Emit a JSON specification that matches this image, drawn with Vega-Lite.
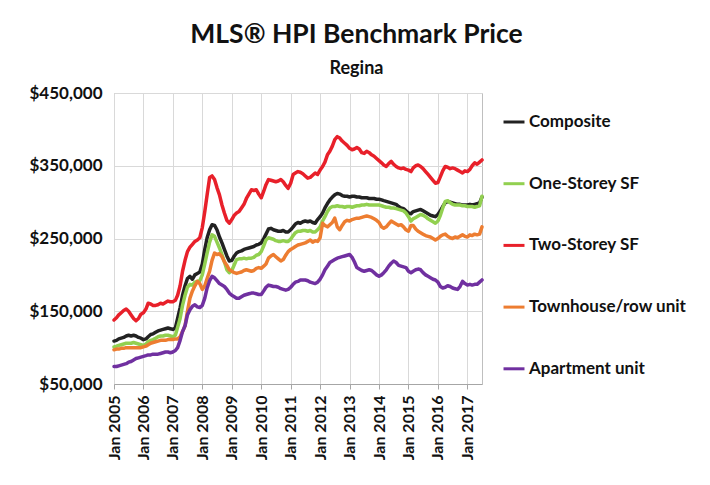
{
  "$schema": "https://vega.github.io/schema/vega-lite/v6.json",
  "width": 368,
  "height": 291,
  "padding": {"left": 29, "top": 21, "right": 5, "bottom": 5},
  "background": "white",
  "title": {
    "text": "MLS® HPI Benchmark Price",
    "subtitle": "Regina",
    "anchor": "middle",
    "frame": "bounds",
    "dx": -10,
    "font": "Lato",
    "fontSize": 26.5,
    "fontWeight": "bold",
    "color": "#111111",
    "subtitleFont": "Lato",
    "subtitleFontSize": 18,
    "subtitleFontWeight": "bold",
    "subtitleColor": "#111111",
    "subtitlePadding": 12,
    "offset": 6
  },
  "data": {
    "values": [
      {"d":"2005-01","Composite":109000,"One-Storey SF":101000,"Two-Storey SF":138000,"Townhouse/row unit":97000,"Apartment unit":74000},
      {"d":"2005-02","Composite":110000,"One-Storey SF":102000,"Two-Storey SF":141000,"Townhouse/row unit":98000,"Apartment unit":74000},
      {"d":"2005-03","Composite":112000,"One-Storey SF":103000,"Two-Storey SF":145000,"Townhouse/row unit":98000,"Apartment unit":75000},
      {"d":"2005-04","Composite":113000,"One-Storey SF":104000,"Two-Storey SF":148000,"Townhouse/row unit":99000,"Apartment unit":76000},
      {"d":"2005-05","Composite":114000,"One-Storey SF":105000,"Two-Storey SF":151000,"Townhouse/row unit":99000,"Apartment unit":77000},
      {"d":"2005-06","Composite":116000,"One-Storey SF":106000,"Two-Storey SF":153000,"Townhouse/row unit":100000,"Apartment unit":78000},
      {"d":"2005-07","Composite":117000,"One-Storey SF":106000,"Two-Storey SF":150000,"Townhouse/row unit":100000,"Apartment unit":80000},
      {"d":"2005-08","Composite":116000,"One-Storey SF":106000,"Two-Storey SF":145000,"Townhouse/row unit":100000,"Apartment unit":81000},
      {"d":"2005-09","Composite":117000,"One-Storey SF":107000,"Two-Storey SF":140000,"Townhouse/row unit":100000,"Apartment unit":83000},
      {"d":"2005-10","Composite":116000,"One-Storey SF":106000,"Two-Storey SF":137000,"Townhouse/row unit":100000,"Apartment unit":85000},
      {"d":"2005-11","Composite":114000,"One-Storey SF":105000,"Two-Storey SF":140000,"Townhouse/row unit":100000,"Apartment unit":86000},
      {"d":"2005-12","Composite":113000,"One-Storey SF":104000,"Two-Storey SF":146000,"Townhouse/row unit":100000,"Apartment unit":87000},
      {"d":"2006-01","Composite":111000,"One-Storey SF":103000,"Two-Storey SF":148000,"Townhouse/row unit":101000,"Apartment unit":88000},
      {"d":"2006-02","Composite":112000,"One-Storey SF":105000,"Two-Storey SF":153000,"Townhouse/row unit":102000,"Apartment unit":89000},
      {"d":"2006-03","Composite":115000,"One-Storey SF":108000,"Two-Storey SF":161000,"Townhouse/row unit":104000,"Apartment unit":90000},
      {"d":"2006-04","Composite":118000,"One-Storey SF":110000,"Two-Storey SF":160000,"Townhouse/row unit":106000,"Apartment unit":90000},
      {"d":"2006-05","Composite":119000,"One-Storey SF":111000,"Two-Storey SF":158000,"Townhouse/row unit":107000,"Apartment unit":91000},
      {"d":"2006-06","Composite":121000,"One-Storey SF":113000,"Two-Storey SF":158000,"Townhouse/row unit":108000,"Apartment unit":91000},
      {"d":"2006-07","Composite":123000,"One-Storey SF":115000,"Two-Storey SF":159000,"Townhouse/row unit":109000,"Apartment unit":91000},
      {"d":"2006-08","Composite":124000,"One-Storey SF":116000,"Two-Storey SF":161000,"Townhouse/row unit":110000,"Apartment unit":92000},
      {"d":"2006-09","Composite":125000,"One-Storey SF":116000,"Two-Storey SF":160000,"Townhouse/row unit":110000,"Apartment unit":93000},
      {"d":"2006-10","Composite":126000,"One-Storey SF":117000,"Two-Storey SF":162000,"Townhouse/row unit":110000,"Apartment unit":94000},
      {"d":"2006-11","Composite":127000,"One-Storey SF":117000,"Two-Storey SF":164000,"Townhouse/row unit":111000,"Apartment unit":94000},
      {"d":"2006-12","Composite":126000,"One-Storey SF":116000,"Two-Storey SF":163000,"Townhouse/row unit":111000,"Apartment unit":93000},
      {"d":"2007-01","Composite":125000,"One-Storey SF":115000,"Two-Storey SF":163000,"Townhouse/row unit":111000,"Apartment unit":94000},
      {"d":"2007-02","Composite":127000,"One-Storey SF":117000,"Two-Storey SF":165000,"Townhouse/row unit":112000,"Apartment unit":96000},
      {"d":"2007-03","Composite":140000,"One-Storey SF":128000,"Two-Storey SF":172000,"Townhouse/row unit":112000,"Apartment unit":100000},
      {"d":"2007-04","Composite":155000,"One-Storey SF":140000,"Two-Storey SF":185000,"Townhouse/row unit":115000,"Apartment unit":110000},
      {"d":"2007-05","Composite":172000,"One-Storey SF":158000,"Two-Storey SF":205000,"Townhouse/row unit":122000,"Apartment unit":122000},
      {"d":"2007-06","Composite":185000,"One-Storey SF":172000,"Two-Storey SF":220000,"Townhouse/row unit":130000,"Apartment unit":130000},
      {"d":"2007-07","Composite":195000,"One-Storey SF":183000,"Two-Storey SF":232000,"Townhouse/row unit":150000,"Apartment unit":145000},
      {"d":"2007-08","Composite":198000,"One-Storey SF":187000,"Two-Storey SF":238000,"Townhouse/row unit":168000,"Apartment unit":152000},
      {"d":"2007-09","Composite":194000,"One-Storey SF":186000,"Two-Storey SF":242000,"Townhouse/row unit":178000,"Apartment unit":157000},
      {"d":"2007-10","Composite":200000,"One-Storey SF":190000,"Two-Storey SF":246000,"Townhouse/row unit":185000,"Apartment unit":159000},
      {"d":"2007-11","Composite":202000,"One-Storey SF":191000,"Two-Storey SF":248000,"Townhouse/row unit":191000,"Apartment unit":156000},
      {"d":"2007-12","Composite":204000,"One-Storey SF":192000,"Two-Storey SF":251000,"Townhouse/row unit":188000,"Apartment unit":155000},
      {"d":"2008-01","Composite":215000,"One-Storey SF":200000,"Two-Storey SF":265000,"Townhouse/row unit":180000,"Apartment unit":158000},
      {"d":"2008-02","Composite":235000,"One-Storey SF":215000,"Two-Storey SF":287000,"Townhouse/row unit":185000,"Apartment unit":168000},
      {"d":"2008-03","Composite":251000,"One-Storey SF":230000,"Two-Storey SF":310000,"Townhouse/row unit":195000,"Apartment unit":182000},
      {"d":"2008-04","Composite":262000,"One-Storey SF":245000,"Two-Storey SF":334000,"Townhouse/row unit":205000,"Apartment unit":192000},
      {"d":"2008-05","Composite":269000,"One-Storey SF":255000,"Two-Storey SF":336000,"Townhouse/row unit":220000,"Apartment unit":198000},
      {"d":"2008-06","Composite":268000,"One-Storey SF":253000,"Two-Storey SF":331000,"Townhouse/row unit":230000,"Apartment unit":196000},
      {"d":"2008-07","Composite":262000,"One-Storey SF":245000,"Two-Storey SF":320000,"Townhouse/row unit":228000,"Apartment unit":192000},
      {"d":"2008-08","Composite":252000,"One-Storey SF":237000,"Two-Storey SF":310000,"Townhouse/row unit":229000,"Apartment unit":188000},
      {"d":"2008-09","Composite":244000,"One-Storey SF":228000,"Two-Storey SF":296000,"Townhouse/row unit":225000,"Apartment unit":186000},
      {"d":"2008-10","Composite":235000,"One-Storey SF":218000,"Two-Storey SF":285000,"Townhouse/row unit":218000,"Apartment unit":184000},
      {"d":"2008-11","Composite":226000,"One-Storey SF":207000,"Two-Storey SF":275000,"Townhouse/row unit":213000,"Apartment unit":180000},
      {"d":"2008-12","Composite":219000,"One-Storey SF":203000,"Two-Storey SF":271000,"Townhouse/row unit":207000,"Apartment unit":175000},
      {"d":"2009-01","Composite":220000,"One-Storey SF":206000,"Two-Storey SF":276000,"Townhouse/row unit":205000,"Apartment unit":172000},
      {"d":"2009-02","Composite":226000,"One-Storey SF":214000,"Two-Storey SF":282000,"Townhouse/row unit":203000,"Apartment unit":170000},
      {"d":"2009-03","Composite":230000,"One-Storey SF":221000,"Two-Storey SF":285000,"Townhouse/row unit":202000,"Apartment unit":168000},
      {"d":"2009-04","Composite":232000,"One-Storey SF":222000,"Two-Storey SF":287000,"Townhouse/row unit":203000,"Apartment unit":168000},
      {"d":"2009-05","Composite":233000,"One-Storey SF":222000,"Two-Storey SF":292000,"Townhouse/row unit":204000,"Apartment unit":170000},
      {"d":"2009-06","Composite":235000,"One-Storey SF":223000,"Two-Storey SF":297000,"Townhouse/row unit":206000,"Apartment unit":172000},
      {"d":"2009-07","Composite":236000,"One-Storey SF":222000,"Two-Storey SF":305000,"Townhouse/row unit":207000,"Apartment unit":173000},
      {"d":"2009-08","Composite":237000,"One-Storey SF":223000,"Two-Storey SF":311000,"Townhouse/row unit":206000,"Apartment unit":174000},
      {"d":"2009-09","Composite":238000,"One-Storey SF":223000,"Two-Storey SF":317000,"Townhouse/row unit":205000,"Apartment unit":175000},
      {"d":"2009-10","Composite":239000,"One-Storey SF":224000,"Two-Storey SF":316000,"Townhouse/row unit":206000,"Apartment unit":175000},
      {"d":"2009-11","Composite":241000,"One-Storey SF":227000,"Two-Storey SF":317000,"Townhouse/row unit":209000,"Apartment unit":174000},
      {"d":"2009-12","Composite":242000,"One-Storey SF":228000,"Two-Storey SF":311000,"Townhouse/row unit":210000,"Apartment unit":173000},
      {"d":"2010-01","Composite":244000,"One-Storey SF":232000,"Two-Storey SF":306000,"Townhouse/row unit":209000,"Apartment unit":173000},
      {"d":"2010-02","Composite":250000,"One-Storey SF":240000,"Two-Storey SF":315000,"Townhouse/row unit":212000,"Apartment unit":178000},
      {"d":"2010-03","Composite":256000,"One-Storey SF":248000,"Two-Storey SF":324000,"Townhouse/row unit":215000,"Apartment unit":183000},
      {"d":"2010-04","Composite":263000,"One-Storey SF":251000,"Two-Storey SF":331000,"Townhouse/row unit":223000,"Apartment unit":186000},
      {"d":"2010-05","Composite":264000,"One-Storey SF":250000,"Two-Storey SF":330000,"Townhouse/row unit":226000,"Apartment unit":185000},
      {"d":"2010-06","Composite":262000,"One-Storey SF":249000,"Two-Storey SF":329000,"Townhouse/row unit":228000,"Apartment unit":184000},
      {"d":"2010-07","Composite":261000,"One-Storey SF":247000,"Two-Storey SF":328000,"Townhouse/row unit":225000,"Apartment unit":184000},
      {"d":"2010-08","Composite":260000,"One-Storey SF":246000,"Two-Storey SF":329000,"Townhouse/row unit":222000,"Apartment unit":183000},
      {"d":"2010-09","Composite":260000,"One-Storey SF":246000,"Two-Storey SF":331000,"Townhouse/row unit":219000,"Apartment unit":181000},
      {"d":"2010-10","Composite":261000,"One-Storey SF":247000,"Two-Storey SF":328000,"Townhouse/row unit":221000,"Apartment unit":180000},
      {"d":"2010-11","Composite":259000,"One-Storey SF":246000,"Two-Storey SF":323000,"Townhouse/row unit":227000,"Apartment unit":179000},
      {"d":"2010-12","Composite":259000,"One-Storey SF":246000,"Two-Storey SF":319000,"Townhouse/row unit":232000,"Apartment unit":180000},
      {"d":"2011-01","Composite":262000,"One-Storey SF":249000,"Two-Storey SF":326000,"Townhouse/row unit":235000,"Apartment unit":183000},
      {"d":"2011-02","Composite":266000,"One-Storey SF":254000,"Two-Storey SF":338000,"Townhouse/row unit":237000,"Apartment unit":187000},
      {"d":"2011-03","Composite":270000,"One-Storey SF":258000,"Two-Storey SF":340000,"Townhouse/row unit":239000,"Apartment unit":190000},
      {"d":"2011-04","Composite":272000,"One-Storey SF":260000,"Two-Storey SF":342000,"Townhouse/row unit":241000,"Apartment unit":191000},
      {"d":"2011-05","Composite":271000,"One-Storey SF":260000,"Two-Storey SF":341000,"Townhouse/row unit":242000,"Apartment unit":193000},
      {"d":"2011-06","Composite":273000,"One-Storey SF":261000,"Two-Storey SF":339000,"Townhouse/row unit":243000,"Apartment unit":193000},
      {"d":"2011-07","Composite":274000,"One-Storey SF":261000,"Two-Storey SF":336000,"Townhouse/row unit":244000,"Apartment unit":193000},
      {"d":"2011-08","Composite":273000,"One-Storey SF":260000,"Two-Storey SF":333000,"Townhouse/row unit":246000,"Apartment unit":192000},
      {"d":"2011-09","Composite":274000,"One-Storey SF":261000,"Two-Storey SF":334000,"Townhouse/row unit":248000,"Apartment unit":190000},
      {"d":"2011-10","Composite":272000,"One-Storey SF":259000,"Two-Storey SF":337000,"Townhouse/row unit":245000,"Apartment unit":189000},
      {"d":"2011-11","Composite":271000,"One-Storey SF":259000,"Two-Storey SF":340000,"Townhouse/row unit":247000,"Apartment unit":188000},
      {"d":"2011-12","Composite":276000,"One-Storey SF":262000,"Two-Storey SF":338000,"Townhouse/row unit":246000,"Apartment unit":190000},
      {"d":"2012-01","Composite":280000,"One-Storey SF":266000,"Two-Storey SF":344000,"Townhouse/row unit":251000,"Apartment unit":194000},
      {"d":"2012-02","Composite":285000,"One-Storey SF":274000,"Two-Storey SF":349000,"Townhouse/row unit":271000,"Apartment unit":200000},
      {"d":"2012-03","Composite":292000,"One-Storey SF":280000,"Two-Storey SF":355000,"Townhouse/row unit":268000,"Apartment unit":207000},
      {"d":"2012-04","Composite":298000,"One-Storey SF":287000,"Two-Storey SF":365000,"Townhouse/row unit":266000,"Apartment unit":212000},
      {"d":"2012-05","Composite":303000,"One-Storey SF":292000,"Two-Storey SF":370000,"Townhouse/row unit":269000,"Apartment unit":217000},
      {"d":"2012-06","Composite":307000,"One-Storey SF":294000,"Two-Storey SF":377000,"Townhouse/row unit":272000,"Apartment unit":219000},
      {"d":"2012-07","Composite":310000,"One-Storey SF":294000,"Two-Storey SF":386000,"Townhouse/row unit":278000,"Apartment unit":221000},
      {"d":"2012-08","Composite":312000,"One-Storey SF":295000,"Two-Storey SF":390000,"Townhouse/row unit":266000,"Apartment unit":223000},
      {"d":"2012-09","Composite":311000,"One-Storey SF":294000,"Two-Storey SF":388000,"Townhouse/row unit":262000,"Apartment unit":224000},
      {"d":"2012-10","Composite":309000,"One-Storey SF":294000,"Two-Storey SF":384000,"Townhouse/row unit":268000,"Apartment unit":225000},
      {"d":"2012-11","Composite":308000,"One-Storey SF":293000,"Two-Storey SF":381000,"Townhouse/row unit":273000,"Apartment unit":226000},
      {"d":"2012-12","Composite":308000,"One-Storey SF":294000,"Two-Storey SF":378000,"Townhouse/row unit":275000,"Apartment unit":227000},
      {"d":"2013-01","Composite":307000,"One-Storey SF":294000,"Two-Storey SF":374000,"Townhouse/row unit":274000,"Apartment unit":228000},
      {"d":"2013-02","Composite":308000,"One-Storey SF":293000,"Two-Storey SF":372000,"Townhouse/row unit":276000,"Apartment unit":224000},
      {"d":"2013-03","Composite":308000,"One-Storey SF":294000,"Two-Storey SF":373000,"Townhouse/row unit":277000,"Apartment unit":218000},
      {"d":"2013-04","Composite":307000,"One-Storey SF":295000,"Two-Storey SF":375000,"Townhouse/row unit":278000,"Apartment unit":210000},
      {"d":"2013-05","Composite":307000,"One-Storey SF":295000,"Two-Storey SF":373000,"Townhouse/row unit":278000,"Apartment unit":208000},
      {"d":"2013-06","Composite":306000,"One-Storey SF":296000,"Two-Storey SF":368000,"Townhouse/row unit":279000,"Apartment unit":206000},
      {"d":"2013-07","Composite":306000,"One-Storey SF":296000,"Two-Storey SF":367000,"Townhouse/row unit":280000,"Apartment unit":205000},
      {"d":"2013-08","Composite":306000,"One-Storey SF":297000,"Two-Storey SF":370000,"Townhouse/row unit":281000,"Apartment unit":206000},
      {"d":"2013-09","Composite":305000,"One-Storey SF":296000,"Two-Storey SF":368000,"Townhouse/row unit":280000,"Apartment unit":207000},
      {"d":"2013-10","Composite":305000,"One-Storey SF":296000,"Two-Storey SF":365000,"Townhouse/row unit":279000,"Apartment unit":206000},
      {"d":"2013-11","Composite":305000,"One-Storey SF":296000,"Two-Storey SF":363000,"Townhouse/row unit":277000,"Apartment unit":203000},
      {"d":"2013-12","Composite":304000,"One-Storey SF":296000,"Two-Storey SF":360000,"Townhouse/row unit":275000,"Apartment unit":200000},
      {"d":"2014-01","Composite":304000,"One-Storey SF":296000,"Two-Storey SF":357000,"Townhouse/row unit":272000,"Apartment unit":198000},
      {"d":"2014-02","Composite":303000,"One-Storey SF":295000,"Two-Storey SF":354000,"Townhouse/row unit":266000,"Apartment unit":200000},
      {"d":"2014-03","Composite":302000,"One-Storey SF":294000,"Two-Storey SF":351000,"Townhouse/row unit":264000,"Apartment unit":203000},
      {"d":"2014-04","Composite":301000,"One-Storey SF":293000,"Two-Storey SF":349000,"Townhouse/row unit":266000,"Apartment unit":207000},
      {"d":"2014-05","Composite":300000,"One-Storey SF":293000,"Two-Storey SF":353000,"Townhouse/row unit":270000,"Apartment unit":212000},
      {"d":"2014-06","Composite":299000,"One-Storey SF":292000,"Two-Storey SF":356000,"Townhouse/row unit":274000,"Apartment unit":216000},
      {"d":"2014-07","Composite":298000,"One-Storey SF":292000,"Two-Storey SF":352000,"Townhouse/row unit":272000,"Apartment unit":219000},
      {"d":"2014-08","Composite":297000,"One-Storey SF":291000,"Two-Storey SF":349000,"Townhouse/row unit":270000,"Apartment unit":217000},
      {"d":"2014-09","Composite":294000,"One-Storey SF":290000,"Two-Storey SF":347000,"Townhouse/row unit":268000,"Apartment unit":213000},
      {"d":"2014-10","Composite":292000,"One-Storey SF":289000,"Two-Storey SF":346000,"Townhouse/row unit":269000,"Apartment unit":212000},
      {"d":"2014-11","Composite":291000,"One-Storey SF":288000,"Two-Storey SF":347000,"Townhouse/row unit":266000,"Apartment unit":211000},
      {"d":"2014-12","Composite":288000,"One-Storey SF":285000,"Two-Storey SF":345000,"Townhouse/row unit":262000,"Apartment unit":210000},
      {"d":"2015-01","Composite":285000,"One-Storey SF":280000,"Two-Storey SF":344000,"Townhouse/row unit":260000,"Apartment unit":205000},
      {"d":"2015-02","Composite":284000,"One-Storey SF":274000,"Two-Storey SF":342000,"Townhouse/row unit":268000,"Apartment unit":203000},
      {"d":"2015-03","Composite":287000,"One-Storey SF":277000,"Two-Storey SF":347000,"Townhouse/row unit":268000,"Apartment unit":205000},
      {"d":"2015-04","Composite":288000,"One-Storey SF":279000,"Two-Storey SF":350000,"Townhouse/row unit":263000,"Apartment unit":207000},
      {"d":"2015-05","Composite":289000,"One-Storey SF":281000,"Two-Storey SF":351000,"Townhouse/row unit":260000,"Apartment unit":208000},
      {"d":"2015-06","Composite":290000,"One-Storey SF":283000,"Two-Storey SF":349000,"Townhouse/row unit":258000,"Apartment unit":207000},
      {"d":"2015-07","Composite":288000,"One-Storey SF":282000,"Two-Storey SF":346000,"Townhouse/row unit":256000,"Apartment unit":203000},
      {"d":"2015-08","Composite":286000,"One-Storey SF":280000,"Two-Storey SF":342000,"Townhouse/row unit":254000,"Apartment unit":200000},
      {"d":"2015-09","Composite":284000,"One-Storey SF":277000,"Two-Storey SF":338000,"Townhouse/row unit":253000,"Apartment unit":198000},
      {"d":"2015-10","Composite":282000,"One-Storey SF":275000,"Two-Storey SF":334000,"Townhouse/row unit":252000,"Apartment unit":196000},
      {"d":"2015-11","Composite":281000,"One-Storey SF":273000,"Two-Storey SF":330000,"Townhouse/row unit":250000,"Apartment unit":194000},
      {"d":"2015-12","Composite":280000,"One-Storey SF":271000,"Two-Storey SF":326000,"Townhouse/row unit":248000,"Apartment unit":193000},
      {"d":"2016-01","Composite":283000,"One-Storey SF":274000,"Two-Storey SF":327000,"Townhouse/row unit":250000,"Apartment unit":190000},
      {"d":"2016-02","Composite":288000,"One-Storey SF":282000,"Two-Storey SF":335000,"Townhouse/row unit":253000,"Apartment unit":184000},
      {"d":"2016-03","Composite":294000,"One-Storey SF":292000,"Two-Storey SF":343000,"Townhouse/row unit":255000,"Apartment unit":182000},
      {"d":"2016-04","Composite":299000,"One-Storey SF":301000,"Two-Storey SF":349000,"Townhouse/row unit":256000,"Apartment unit":183000},
      {"d":"2016-05","Composite":301000,"One-Storey SF":302000,"Two-Storey SF":348000,"Townhouse/row unit":253000,"Apartment unit":185000},
      {"d":"2016-06","Composite":300000,"One-Storey SF":299000,"Two-Storey SF":346000,"Townhouse/row unit":251000,"Apartment unit":184000},
      {"d":"2016-07","Composite":299000,"One-Storey SF":297000,"Two-Storey SF":347000,"Townhouse/row unit":250000,"Apartment unit":182000},
      {"d":"2016-08","Composite":298000,"One-Storey SF":296000,"Two-Storey SF":346000,"Townhouse/row unit":252000,"Apartment unit":181000},
      {"d":"2016-09","Composite":297000,"One-Storey SF":296000,"Two-Storey SF":344000,"Townhouse/row unit":251000,"Apartment unit":180000},
      {"d":"2016-10","Composite":297000,"One-Storey SF":296000,"Two-Storey SF":342000,"Townhouse/row unit":253000,"Apartment unit":184000},
      {"d":"2016-11","Composite":296000,"One-Storey SF":295000,"Two-Storey SF":340000,"Townhouse/row unit":255000,"Apartment unit":191000},
      {"d":"2016-12","Composite":296000,"One-Storey SF":295000,"Two-Storey SF":343000,"Townhouse/row unit":253000,"Apartment unit":188000},
      {"d":"2017-01","Composite":296000,"One-Storey SF":294000,"Two-Storey SF":342000,"Townhouse/row unit":252000,"Apartment unit":186000},
      {"d":"2017-02","Composite":297000,"One-Storey SF":294000,"Two-Storey SF":345000,"Townhouse/row unit":255000,"Apartment unit":187000},
      {"d":"2017-03","Composite":296000,"One-Storey SF":294000,"Two-Storey SF":350000,"Townhouse/row unit":254000,"Apartment unit":186000},
      {"d":"2017-04","Composite":297000,"One-Storey SF":293000,"Two-Storey SF":354000,"Townhouse/row unit":256000,"Apartment unit":187000},
      {"d":"2017-05","Composite":298000,"One-Storey SF":294000,"Two-Storey SF":352000,"Townhouse/row unit":255000,"Apartment unit":187000},
      {"d":"2017-06","Composite":299000,"One-Storey SF":295000,"Two-Storey SF":355000,"Townhouse/row unit":256000,"Apartment unit":190000},
      {"d":"2017-07","Composite":307000,"One-Storey SF":308000,"Two-Storey SF":358000,"Townhouse/row unit":266000,"Apartment unit":193000}
    ]
  },
  "transform": [
    {"fold": ["Composite", "One-Storey SF", "Two-Storey SF", "Townhouse/row unit", "Apartment unit"], "as": ["series", "price"]}
  ],
  "mark": {"type": "line", "strokeWidth": 3.5, "strokeJoin": "round", "strokeCap": "round"},
  "encoding": {
    "x": {
      "field": "d",
      "type": "temporal",
      "scale": {"type": "utc", "domain": [{"year": 2005, "month": 1, "date": 1, "utc": true}, {"year": 2017, "month": 7, "date": 1, "utc": true}], "nice": false},
      "axis": {
        "title": null,
        "labelExpr": "utcFormat(datum.value, '%b %Y')",
        "values": [
          {"year": 2005, "month": 1, "date": 1, "utc": true},
          {"year": 2006, "month": 1, "date": 1, "utc": true},
          {"year": 2007, "month": 1, "date": 1, "utc": true},
          {"year": 2008, "month": 1, "date": 1, "utc": true},
          {"year": 2009, "month": 1, "date": 1, "utc": true},
          {"year": 2010, "month": 1, "date": 1, "utc": true},
          {"year": 2011, "month": 1, "date": 1, "utc": true},
          {"year": 2012, "month": 1, "date": 1, "utc": true},
          {"year": 2013, "month": 1, "date": 1, "utc": true},
          {"year": 2014, "month": 1, "date": 1, "utc": true},
          {"year": 2015, "month": 1, "date": 1, "utc": true},
          {"year": 2016, "month": 1, "date": 1, "utc": true},
          {"year": 2017, "month": 1, "date": 1, "utc": true}
        ],
        "labelAngle": -90,
        "labelFont": "Lato",
        "labelFontSize": 16,
        "labelFontWeight": "bold",
        "labelColor": "#111111",
        "labelPadding": 6,
        "labelOverlap": false,
        "labelFlush": false,
        "domain": true,
        "domainColor": "#a6a6a6",
        "ticks": true,
        "tickSize": 5,
        "tickColor": "#a6a6a6",
        "grid": true,
        "gridColor": "#d9d9d9",
        "gridWidth": 1
      }
    },
    "y": {
      "field": "price",
      "type": "quantitative",
      "scale": {"domain": [50000, 450000], "nice": false, "zero": false},
      "axis": {
        "title": null,
        "values": [50000, 150000, 250000, 350000, 450000],
        "format": "$,.0f",
        "labelFont": "Lato",
        "labelFontSize": 17,
        "labelFontWeight": "bold",
        "labelColor": "#111111",
        "labelPadding": 12,
        "domain": false,
        "ticks": false,
        "grid": true,
        "gridColor": "#d9d9d9",
        "gridWidth": 1
      }
    },
    "color": {
      "field": "series",
      "type": "nominal",
      "sort": ["Composite", "One-Storey SF", "Two-Storey SF", "Townhouse/row unit", "Apartment unit"],
      "scale": {
        "domain": ["Composite", "One-Storey SF", "Two-Storey SF", "Townhouse/row unit", "Apartment unit"],
        "range": ["#222222", "#92d050", "#e8202a", "#ed7d31", "#7030a0"]
      },
      "legend": {
        "title": null,
        "orient": "right",
        "offset": 1,
        "padding": 17,
        "symbolType": "stroke",
        "symbolSize": 440,
        "symbolStrokeWidth": 3,
        "labelFont": "Lato",
        "labelFontSize": 17,
        "labelFontWeight": "bold",
        "labelColor": "#111111",
        "labelOffset": 3,
        "rowPadding": 41.7
      }
    }
  },
  "config": {
    "view": {"stroke": "#bfbfbf", "strokeWidth": 1}
  }
}
